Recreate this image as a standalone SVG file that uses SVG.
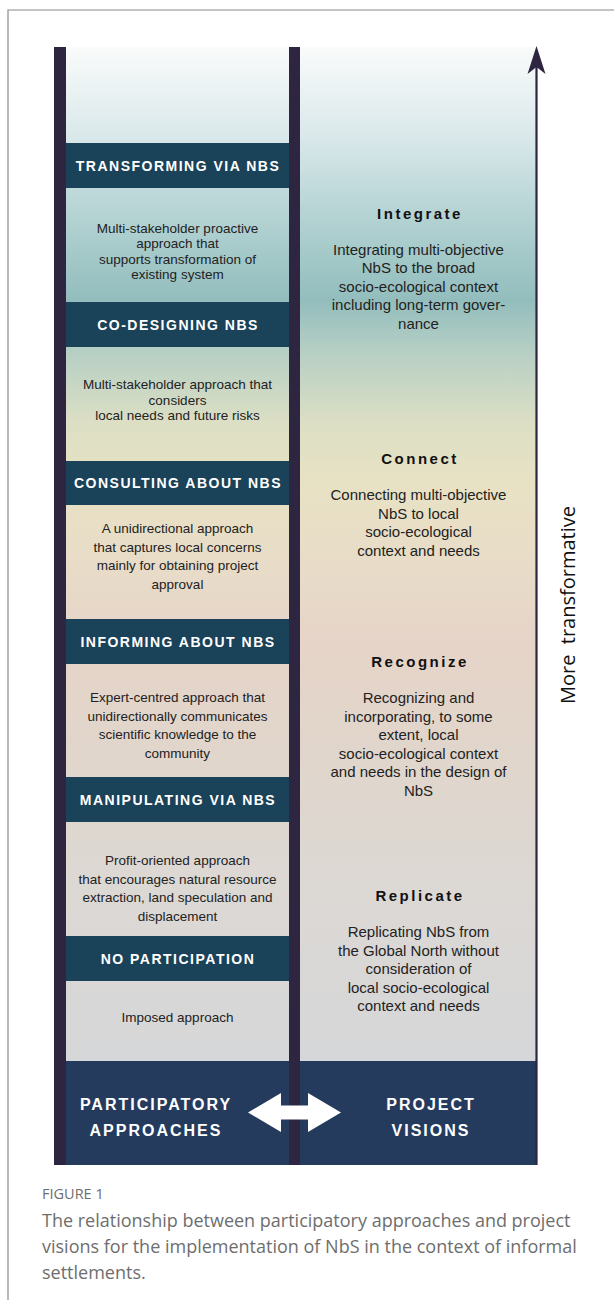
<svg xmlns="http://www.w3.org/2000/svg" width="614" height="1300" viewBox="0 0 614 1300">
<defs>
<linearGradient id="bg" gradientUnits="userSpaceOnUse" x1="0" y1="47" x2="0" y2="1061">
<stop offset="0" stop-color="#fafbfb"/>
<stop offset="0.09" stop-color="#d9e8ea"/>
<stop offset="0.14" stop-color="#c0dadb"/>
<stop offset="0.2" stop-color="#a6caca"/>
<stop offset="0.25" stop-color="#93bdbd"/>
<stop offset="0.3" stop-color="#b6cfc4"/>
<stop offset="0.37" stop-color="#dcdfc4"/>
<stop offset="0.43" stop-color="#e8e2c4"/>
<stop offset="0.51" stop-color="#e8dcc8"/>
<stop offset="0.59" stop-color="#e6d4c8"/>
<stop offset="0.71" stop-color="#e0d6cc"/>
<stop offset="0.83" stop-color="#dcd8d4"/>
<stop offset="1" stop-color="#d6d7d9"/>
</linearGradient>
<style>
.bar{fill:#2e2540}
.hdr{fill:#1a4259}
.hdrt{font-family:"Liberation Sans",Arial,sans-serif;font-weight:bold;font-size:14px;fill:#ffffff;letter-spacing:1.5px;text-anchor:middle}
.dl{font-family:"Liberation Sans",Arial,sans-serif;font-size:13.5px;fill:#222222;text-anchor:middle}
.dr{font-family:"Liberation Sans",Arial,sans-serif;font-size:15px;fill:#222222;text-anchor:middle}
.tr{font-family:"Liberation Sans",Arial,sans-serif;font-weight:bold;font-size:15px;fill:#111111;letter-spacing:2.5px;text-anchor:middle}
.bt{font-family:"Liberation Sans",Arial,sans-serif;font-weight:bold;font-size:16px;fill:#ffffff;letter-spacing:2px;text-anchor:middle}
.cap{font-family:"Open Sans","Liberation Sans",sans-serif;fill:#6e6e6e}
</style>
</defs>
<rect x="0" y="0" width="614" height="1300" fill="#ffffff"/>
<path d="M8,1300 L8,10 L614,10" fill="none" stroke="#8a8a8a" stroke-width="1.2"/>

<g id="panels">
<rect x="66" y="47" width="223" height="1014" fill="url(#bg)"/>
<rect x="300" y="47" width="236" height="1014" fill="url(#bg)"/>
<rect x="54" y="1061" width="483" height="104" fill="#243b5e"/>
<rect class="bar" x="54" y="47" width="12" height="1118"/>
<rect class="bar" x="289" y="47" width="11" height="1118"/>
</g>

<g id="node-transforming">
<rect class="hdr" x="66" y="143" width="223" height="45"/>
<text class="hdrt" x="178" y="170.5">TRANSFORMING VIA NBS</text>
<text class="dl" x="177.5" y="232.5">Multi-stakeholder proactive</text>
<text class="dl" x="177.5" y="248">approach that</text>
<text class="dl" x="177.5" y="263.5">supports transformation of</text>
<text class="dl" x="177.5" y="279">existing system</text>
</g>
<g id="node-codesigning">
<rect class="hdr" x="66" y="302" width="223" height="45"/>
<text class="hdrt" x="178" y="329.5">CO-DESIGNING NBS</text>
<text class="dl" x="177.5" y="389">Multi-stakeholder approach that</text>
<text class="dl" x="177.5" y="404.5">considers</text>
<text class="dl" x="177.5" y="420">local needs and future risks</text>
</g>
<g id="node-consulting">
<rect class="hdr" x="66" y="461" width="223" height="44"/>
<text class="hdrt" x="178" y="488">CONSULTING ABOUT NBS</text>
<text class="dl" x="177.5" y="533">A unidirectional approach</text>
<text class="dl" x="177.5" y="551.5">that captures local concerns</text>
<text class="dl" x="177.5" y="570">mainly for obtaining project</text>
<text class="dl" x="177.5" y="588.5">approval</text>
</g>
<g id="node-informing">
<rect class="hdr" x="66" y="619" width="223" height="45"/>
<text class="hdrt" x="178" y="646.5">INFORMING ABOUT NBS</text>
<text class="dl" x="177.5" y="702">Expert-centred approach that</text>
<text class="dl" x="177.5" y="720.5">unidirectionally communicates</text>
<text class="dl" x="177.5" y="739">scientific knowledge to the</text>
<text class="dl" x="177.5" y="757.5">community</text>
</g>
<g id="node-manipulating">
<rect class="hdr" x="66" y="777" width="223" height="45"/>
<text class="hdrt" x="178" y="804.5">MANIPULATING VIA NBS</text>
<text class="dl" x="177.5" y="865">Profit-oriented approach</text>
<text class="dl" x="177.5" y="883.5">that encourages natural resource</text>
<text class="dl" x="177.5" y="902">extraction, land speculation and</text>
<text class="dl" x="177.5" y="920.5">displacement</text>
</g>
<g id="node-noparticipation">
<rect class="hdr" x="66" y="936" width="223" height="45"/>
<text class="hdrt" x="178" y="963.5">NO PARTICIPATION</text>
<text class="dl" x="177.5" y="1022">Imposed approach</text>
</g>

<g id="node-integrate">
<text class="tr" x="420" y="219">Integrate</text>
<text class="dr" x="418.5" y="254.5">Integrating multi-objective</text>
<text class="dr" x="418.5" y="273">NbS to the broad</text>
<text class="dr" x="418.5" y="291.5">socio-ecological context</text>
<text class="dr" x="418.5" y="310">including long-term gover-</text>
<text class="dr" x="418.5" y="328.5">nance</text>
</g>
<g id="node-connect">
<text class="tr" x="420" y="464">Connect</text>
<text class="dr" x="418.5" y="500">Connecting multi-objective</text>
<text class="dr" x="418.5" y="518.5">NbS to local</text>
<text class="dr" x="418.5" y="537">socio-ecological</text>
<text class="dr" x="418.5" y="555.5">context and needs</text>
</g>
<g id="node-recognize">
<text class="tr" x="420" y="667">Recognize</text>
<text class="dr" x="418.5" y="703">Recognizing and</text>
<text class="dr" x="418.5" y="721.5">incorporating, to some</text>
<text class="dr" x="418.5" y="740">extent, local</text>
<text class="dr" x="418.5" y="758.5">socio-ecological context</text>
<text class="dr" x="418.5" y="777">and needs in the design of</text>
<text class="dr" x="418.5" y="795.5">NbS</text>
</g>
<g id="node-replicate">
<text class="tr" x="420" y="901">Replicate</text>
<text class="dr" x="418.5" y="937">Replicating NbS from</text>
<text class="dr" x="418.5" y="955.5">the Global North without</text>
<text class="dr" x="418.5" y="974">consideration of</text>
<text class="dr" x="418.5" y="992.5">local socio-ecological</text>
<text class="dr" x="418.5" y="1011">context and needs</text>
</g>

<g id="node-bottom">
<text class="bt" x="156" y="1110">PARTICIPATORY</text>
<text class="bt" x="156" y="1136">APPROACHES</text>
<text class="bt" x="431" y="1110">PROJECT</text>
<text class="bt" x="431" y="1136">VISIONS</text>
</g>

<g id="connectors">
<line x1="536.5" y1="1165" x2="536.5" y2="60" stroke="#2e2540" stroke-width="2.2"/>
<path d="M536.5,46 L545.5,74 L536.5,67 L527.5,74 Z" fill="#2e2540"/>
<path d="M248,1112.5 L281,1093 L281,1105.5 L308,1105.5 L308,1093 L341,1112.5 L308,1132 L308,1119.5 L281,1119.5 L281,1132 Z" fill="#ffffff"/>
</g>

<g id="side-label">
<text x="575" y="605" transform="rotate(-90 575 605)" font-family="'Open Sans','Liberation Sans',sans-serif" font-size="20" fill="#111111" text-anchor="middle" xml:space="preserve">More  transformative</text>
</g>

<g id="caption">
<text class="cap" x="42" y="1199" font-size="14.5">FIGURE 1</text>
<text class="cap" x="42" y="1227" font-size="18">The relationship between participatory approaches and project</text>
<text class="cap" x="42" y="1253" font-size="18">visions for the implementation of NbS in the context of informal</text>
<text class="cap" x="42" y="1279" font-size="18">settlements.</text>
</g>
</svg>
